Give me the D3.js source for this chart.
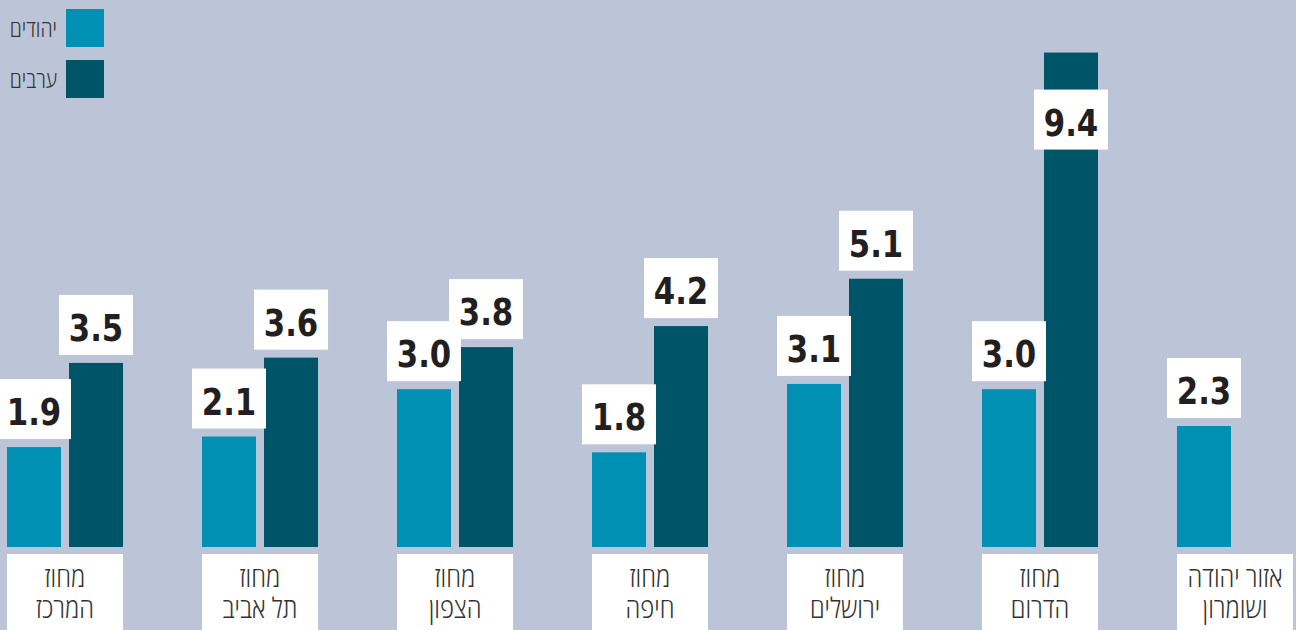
<!DOCTYPE html>
<html lang="he">
<head>
<meta charset="utf-8">
<script src="https://cdn.jsdelivr.net/npm/d3@7"></script>
<style>
  html, body { margin: 0; padding: 0; background: #bcc5d8; overflow: hidden; }
  svg { display: block; }
  .num { font-family: "DejaVu Sans Condensed", "DejaVu Sans", sans-serif; font-weight: bold; }
  .lbl { font-family: "Open Sans", "DejaVu Sans Condensed", sans-serif; font-weight: 300; }
</style>
</head>
<body>
<div id="chart"></div>
<script>
  // data
  var categories = ["center", "telaviv", "north", "haifa", "jerusalem", "south", "judea"];
  var categoryLabels = [
    ["מחוז", "המרכז"],
    ["מחוז", "תל אביב"],
    ["מחוז", "הצפון"],
    ["מחוז", "חיפה"],
    ["מחוז", "ירושלים"],
    ["מחוז", "הדרום"],
    ["אזור יהודה", "ושומרון"]
  ];
  var jews = [1.9, 2.1, 3.0, 1.8, 3.1, 3.0, 2.3];
  var arabs = [3.5, 3.6, 3.8, 4.2, 5.1, 9.4, null];
  var seriesKeys = ["jews", "arabs"];
  var seriesNames = ["יהודים", "ערבים"];
  var seriesColors = ["#0090b3", "#005467"];

  var width = 1296, height = 630;
  var baseline = 547;

  var svg = d3.select("#chart").append("svg")
    .attr("width", width)
    .attr("height", height);

  svg.append("rect").attr("width", width).attr("height", height).attr("fill", "#bcc5d8");

  var x = d3.scaleBand()
    .domain(categories)
    .range([7, 1293])
    .paddingInner(0.405)
    .paddingOuter(0);

  var xs = d3.scaleBand()
    .domain(seriesKeys)
    .range([0, x.bandwidth()])
    .paddingInner(8 / 62);

  var y = d3.scaleLinear()
    .domain([0, 10])
    .range([baseline, baseline - 526]);

  var fmt = d3.format(".1f");

  var rows = categories.map(function(c, i) {
    return {
      cat: c,
      label: categoryLabels[i],
      values: [
        { key: "jews", value: jews[i], color: seriesColors[0] },
        { key: "arabs", value: arabs[i], color: seriesColors[1] }
      ].filter(function(d) { return d.value != null; })
    };
  });

  var group = svg.selectAll(".grp")
    .data(rows)
    .enter().append("g")
    .attr("class", "grp")
    .attr("transform", function(d) { return "translate(" + x(d.cat) + ",0)"; });

  group.selectAll(".bar")
    .data(function(d) { return d.values; })
    .enter().append("rect")
    .attr("class", "bar")
    .attr("x", function(d) { return xs(d.key); })
    .attr("y", function(d) { return y(d.value); })
    .attr("width", xs.bandwidth())
    .attr("height", function(d) { return baseline - y(d.value); })
    .attr("fill", function(d) { return d.color; });

  // value boxes - above the bar, or inside it when there is no room on top
  var vb = group.selectAll(".vbox")
    .data(function(d) { return d.values; })
    .enter().append("g")
    .attr("class", "vbox")
    .attr("transform", function(d) {
      var top = y(d.value) - 8 - 60;
      if (top < 0) top = y(d.value) + 37;
      return "translate(" + (xs(d.key) + xs.bandwidth() / 2) + "," + top + ")";
    });

  vb.append("rect")
    .attr("x", -37)
    .attr("width", 74)
    .attr("height", 60)
    .attr("fill", "#ffffff");

  vb.append("text")
    .attr("class", "num")
    .attr("transform", "translate(0,46) scale(0.9,1)")
    .attr("text-anchor", "middle")
    .attr("font-size", 38)
    .attr("fill", "#231f20")
    .text(function(d) { return fmt(d.value); });

  // category label boxes
  group.append("rect")
    .attr("y", 554)
    .attr("width", x.bandwidth())
    .attr("height", 90)
    .attr("fill", "#ffffff");

  group.append("g")
    .attr("transform", "translate(" + x.bandwidth() / 2 + ",0) scale(0.85,1)")
    .append("text")
    .attr("class", "lbl")
    .attr("text-anchor", "middle")
    .attr("font-size", 28)
    .attr("fill", "#333333")
    .attr("direction", "rtl")
    .selectAll("tspan")
    .data(function(d) { return d.label; })
    .enter().append("tspan")
    .attr("x", 0)
    .attr("y", function(d, i) { return 587 + i * 31; })
    .text(function(d) { return d; });

  // legend
  var legend = svg.append("g").attr("class", "legend");
  var li = legend.selectAll("g")
    .data(seriesNames)
    .enter().append("g")
    .attr("transform", function(d, i) { return "translate(66," + (9 + i * 51) + ")"; });

  li.append("rect")
    .attr("width", 38)
    .attr("height", 38)
    .attr("fill", function(d, i) { return seriesColors[i]; });

  li.append("text")
    .attr("class", "lbl")
    .attr("transform", "translate(-9,28) scale(0.85,1)")
    .attr("text-anchor", "start")
    .attr("direction", "rtl")
    .attr("font-size", 23)
    .attr("fill", "#333333")
    .text(function(d) { return d; });
</script>
</body>
</html>
